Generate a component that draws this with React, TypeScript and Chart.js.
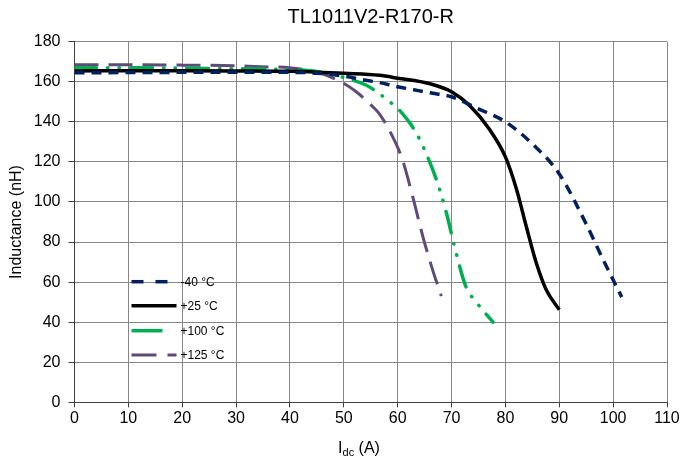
import { useEffect, useRef } from 'react';
import { Chart, registerables } from 'chart.js';

Chart.register(...registerables);

const chartTitle = 'TL1011V2-R170-R';
const yAxisTitle = 'Inductance (nH)';
const xAxisTitleMain = 'I';
const xAxisTitleSub = 'dc';
const xAxisTitleTail = ' (A)';

const seriesLabels = ['-40 °C', '+25 °C', '+100 °C', '+125 °C'];
const seriesColors = ['#002060', '#000000', '#00B050', '#604A7B'];

// -40 °C
const currentM40 = [0, 10, 20, 30, 40, 45, 50, 53, 56.6, 60, 63, 66, 70, 75, 80, 85, 90, 95, 98, 101.6];
const inductanceM40 = [164.5, 164.6, 164.7, 164.8, 164.7, 164.3, 162.8, 161.3, 159.6, 157.5, 156, 154.5, 152.5, 146.5, 140, 129, 114, 89, 72, 52.5];

// +25 °C
const currentP25 = [0, 10, 20, 30, 40, 45, 50, 56.6, 60, 66, 70, 73.4, 77.1, 80, 82.1, 83.9, 85.8, 87.6, 90];
const inductanceP25 = [165.4, 165.5, 165.5, 165.4, 165.2, 164.8, 164.2, 163.2, 161.8, 159, 155, 148, 136, 122.5, 106, 87.5, 69, 56, 46.2];

// +100 °C
const currentP100 = [0, 10, 20, 30, 40, 45.4, 51, 54.1, 56.6, 59, 60.6, 62.5, 64, 67.2, 69, 70.9, 72.7, 74.6, 77.7];
const inductanceP100 = [167, 167, 166.8, 166.5, 166, 165, 161.3, 158.4, 154, 149, 145, 138.5, 131.7, 111, 95, 74, 57.5, 50, 40];

// +125 °C
const currentP125 = [0, 10, 20, 30, 34.3, 39.9, 46, 50.1, 52.3, 55.4, 56.6, 58.8, 60.9, 62.8, 64.7, 66.5, 68.1];
const inductanceP125 = [168.5, 168.5, 168.3, 168, 167.5, 167, 164, 159, 155, 147.5, 144, 134, 121, 102.5, 82.5, 66, 53];

const seriesCurrents = [currentM40, currentP25, currentP100, currentP125];
const seriesInductances = [inductanceM40, inductanceP25, inductanceP100, inductanceP125];

const seriesDashes: number[][] = [[10, 7], [], [22, 11, 0.5, 11, 0.5, 11], [24, 10]];
const seriesWidths = [3.5, 3.5, 3.5, 3];
const seriesCaps: CanvasLineCap[] = ['butt', 'butt', 'round', 'butt'];
const legendDashes: number[][] = [[12, 12], [], [31, 40], [25, 11]];

const FONT = "'Liberation Sans', Arial, Helvetica, sans-serif";

const overlayPlugin = {
  id: 'overlayText',
  afterDatasetsDraw(chart: any) {
    const { ctx, chartArea } = chart;
    ctx.save();
    // legend inside plot area
    const x0 = chartArea.left + 57;
    const x1 = chartArea.left + 102;
    const rowY = [281.7, 305.7, 330.7, 355];
    chart.data.datasets.forEach((ds: any, i: number) => {
      const y = rowY[i];
      ctx.beginPath();
      ctx.setLineDash(legendDashes[i]);
      ctx.lineCap = 'butt';
      ctx.strokeStyle = ds.borderColor;
      ctx.lineWidth = seriesWidths[i];
      ctx.moveTo(x0, y);
      ctx.lineTo(x1, y);
      ctx.stroke();
      ctx.setLineDash([]);
      ctx.fillStyle = '#000';
      ctx.font = `12px ${FONT}`;
      ctx.textBaseline = 'middle';
      ctx.textAlign = 'left';
      ctx.fillText(ds.label, x1 + 4, y + 1);
    });
    ctx.restore();
  },
  afterDraw(chart: any) {
    const { ctx } = chart;
    ctx.save();
    ctx.fillStyle = '#000';
    ctx.textBaseline = 'alphabetic';
    ctx.textAlign = 'left';
    const big = `16px ${FONT}`;
    const small = `11px ${FONT}`;
    ctx.font = big;
    const wI = ctx.measureText(xAxisTitleMain).width;
    const wT = ctx.measureText(xAxisTitleTail).width;
    ctx.font = small;
    const wS = ctx.measureText(xAxisTitleSub).width;
    const total = wI + wS + wT;
    let x = 359 - total / 2;
    const base = 453;
    ctx.font = big;
    ctx.fillText(xAxisTitleMain, x, base);
    x += wI;
    ctx.font = small;
    ctx.fillText(xAxisTitleSub, x, base + 3);
    x += wS;
    ctx.font = big;
    ctx.fillText(xAxisTitleTail, x, base);
    ctx.restore();
  },
};

export default function App() {
  const canvasRef = useRef<HTMLCanvasElement | null>(null);

  useEffect(() => {
    document.body.style.margin = '0';
    const canvas = canvasRef.current;
    if (!canvas) return;
    Chart.defaults.font.family = FONT;
    const datasets = seriesLabels.map((label, i) => ({
      label,
      data: seriesCurrents[i].map((xv, j) => ({ x: xv, y: seriesInductances[i][j] })),
      borderColor: seriesColors[i],
      backgroundColor: seriesColors[i],
      borderWidth: seriesWidths[i],
      borderDash: seriesDashes[i],
      borderCapStyle: seriesCaps[i],
      pointRadius: 0,
      fill: false,
      cubicInterpolationMode: 'monotone' as const,
      tension: 0.4,
    }));
    const chart = new Chart(canvas, {
      type: 'line',
      data: { datasets },
      options: {
        animation: false,
        responsive: false,
        maintainAspectRatio: false,
        layout: { padding: { left: 0, right: 17, top: 0, bottom: 0 } },
        plugins: {
          legend: { display: false },
          tooltip: { enabled: false },
          title: {
            display: true,
            text: chartTitle,
            fullSize: false,
            color: '#000',
            font: { size: 20, weight: 'normal' },
            padding: { top: 5, bottom: 12.7 },
          },
        },
        scales: {
          x: {
            type: 'linear',
            min: 0,
            max: 110,
            ticks: { stepSize: 10, color: '#000', font: { size: 16 }, padding: 2, maxRotation: 0 },
            grid: { color: '#868686', tickLength: 5, tickColor: '#404040' },
            border: { color: '#404040', width: 1 },
            afterFit: (scale: any) => {
              scale.height = 61.7;
            },
          },
          y: {
            min: 0,
            max: 180,
            ticks: { stepSize: 20, color: '#000', font: { size: 16 }, padding: 8 },
            grid: { color: '#868686', tickLength: 6, tickColor: '#404040' },
            border: { color: '#404040', width: 1 },
            title: {
              display: true,
              text: yAxisTitle,
              color: '#000',
              font: { size: 16 },
              padding: { top: 7, bottom: 0 },
            },
            afterFit: (scale: any) => {
              scale.width = 74.5;
            },
          },
        },
      },
      plugins: [overlayPlugin],
    });
    return () => chart.destroy();
  }, []);

  return (
    <div style={{ width: 684, height: 464 }}>
      <canvas ref={canvasRef} width={684} height={464} style={{ display: 'block' }} />
    </div>
  );
}
